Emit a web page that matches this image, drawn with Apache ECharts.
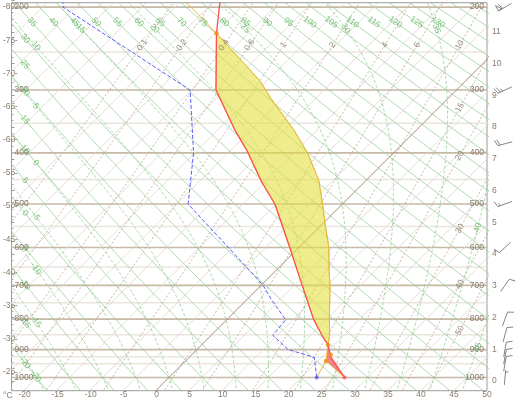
<!DOCTYPE html>
<html><head><meta charset="utf-8">
<script src="https://cdn.jsdelivr.net/npm/echarts@6/dist/echarts.min.js"></script>
<style>html,body{margin:0;padding:0;background:#fff}#c{width:517px;height:400px}</style>
</head><body><div id="c"></div>
<script>
// ---------------- data ----------------
// environment temperature (hPa, °C)
const envP = [1000, 925, 884, 850, 800, 700, 600, 500, 454, 395, 361, 300, 228, 200, 150];
const envT = [26.5, 21.3, 19.1, 16.6, 13.0, 6.2, -1.4, -10.2, -15.6, -22.6, -27.4, -36.3, -44.8, -48.3, -55.5];
// dew point
const dewP = [1000, 927, 900, 852, 802, 742, 700, 650, 500, 400, 300, 200, 150];
const dewT = [22.3, 18.9, 13.8, 9.3, 8.9, 3.8, 0.3, -5.0, -23.3, -30.2, -40.2, -71.9, -80.2];
// lifted parcel
const parcelP = [1000, 939.5, 900, 884, 850, 800, 700, 659, 600, 543, 500, 451, 400, 361, 310, 288, 250, 228, 200, 190];
const parcelT = [26.5, 21.2, 19.7, 19.1, 17.8, 15.4, 10.4, 8.0, 4.5, 0.3, -3.0, -7.2, -13.0, -18.5, -27.1, -30.9, -39.4, -44.8, -52.6, -55.8];
// surface dew point lifted to the condensation level
const liftP = [1000, 939.5];
const liftT = [22.3, 21.2];
// marked parcel points (LCL, ..., LFC, EL)
const markP = [939.5, 918, 884, 228];
const markT = [21.2, 21.0, 19.1, -44.8];
const lfcP = 884, elP = 228;
// wind (hPa, direction deg, speed kt)
const windP = [200, 300, 384, 500, 600, 700, 800, 850, 900, 925, 950, 1000];
const windDir = [240, 245, 255, 250, 228, 35, 20, 15, 10, 10, 10, 5];
const windSpd = [60, 25, 20, 15, 10, 10, 10, 10, 10, 10, 10, 5];
// grid values / tick labels
const majorP = [200, 300, 400, 500, 600, 700, 800, 900, 1000];
const minorP = [250, 350, 450, 550, 650, 750, 850, 925, 950];
const mixRatios = [0.1, 0.2, 0.4, 0.6, 1, 2, 4, 6, 10, 15, 20, 30, 40, 50];
const dryThetas = []; for (let t = -25; t <= 150; t += 5) dryThetas.push(t);
const moistThetas = []; for (let t = -25; t <= 45; t += 5) moistThetas.push(t);
const isoTemps = []; for (let t = -80; t <= 50; t += 5) isoTemps.push(t);

// ---------------- diagram geometry ----------------
const xMin = -21.78, xMax = 50, hMin = -0.3055, hMax = 11.915;
const G = {left: 11.5, right: 30, top: 2.7, bottom: 9.3};
const pxDeg = (517 - G.left - G.right) / (xMax - xMin);
const pxKm = (400 - G.top - G.bottom) / (hMax - hMin);
const K = pxKm / pxDeg;
function hOf(p) { return 44.3308 * (1 - Math.pow(p / 1013.25, 0.190263)); }
function XY(T, p) { const h = hOf(p); return [T + K * (h - hMin), h]; }
function es(T) { return 6.112 * Math.exp(17.67 * T / (T + 243.5)); }
const GAP = [NaN, NaN];
function profile(P, T) { return P.map((p, i) => XY(T[i], p)); }

function hLines(list) { const d = []; list.forEach(p => { const h = hOf(p); d.push([xMin, h], [xMax, h], GAP); }); return d; }
const isoData = []; isoTemps.filter(t => t !== 0).forEach(t => { isoData.push([t, hMin], [t + K * (hMax - hMin), hMax], GAP); });
const zeroIso = [[0, hMin], [K * (hMax - hMin), hMax]];
const pList = []; for (let p = 1060; p >= 165; p -= 5) pList.push(p);
const dryLines = dryThetas.map(th => pList.map(p => XY((th + 273.15) * Math.pow(p / 1000, 0.2857) - 273.15, p)));
function mlapse(p, Tc) {
  const T = Tc + 273.15, e = es(Tc), rs = 0.622 * e / (p - e);
  const Rd = 287.04, cp = 1005.7, Lv = 2.501e6;
  return (1 / p) * (Rd * T + Lv * rs) / (cp + Lv * Lv * rs * 0.622 / (Rd * T * T));
}
function moist(thw) {
  const up = []; let T = thw;
  for (let p = 1000; p >= 165; p -= 5) {
    up.push(XY(T, p));
    const k1 = mlapse(p, T), k2 = mlapse(p - 2.5, T - 2.5 * k1);
    T -= 5 * k2;
  }
  const down = []; T = thw;
  for (let p = 1000; p <= 1060; p += 5) {
    if (p > 1000) down.unshift(XY(T, p));
    const k1 = mlapse(p, T), k2 = mlapse(p + 2.5, T + 2.5 * k1);
    T += 5 * k2;
  }
  return down.concat(up);
}
const moistLines = moistThetas.map(moist);
function mixT(w, p) { const e = w / 1000 * p / (0.622 + w / 1000); const l = Math.log(e / 6.112); return 243.5 * l / (17.67 - l); }
const mixLines = mixRatios.map(w => pList.map(p => XY(mixT(w, p), p)));
function join(lines) { const d = []; lines.forEach(l => { l.forEach(q => d.push(q)); d.push(GAP); }); return d; }

// label where a line leaves the plot (interpolated crossing of the label band)
function labelAt(line, topH, leftX, rightX, maxX) {
  let inside = false;
  for (let i = 1; i < line.length; i++) {
    const [x, h] = line[i];
    if (!inside) { if (x > xMin && x < xMax && h > hMin && h < hMax) inside = true; else continue; }
    if (h >= topH || x <= leftX || x >= rightX) {
      const a = line[i - 1];
      let t = 1;
      if (h >= topH && h !== a[1]) t = Math.min(t, (topH - a[1]) / (h - a[1]));
      if (x <= leftX && x !== a[0]) t = Math.min(t, (leftX - a[0]) / (x - a[0]));
      if (x >= rightX && x !== a[0]) t = Math.min(t, (rightX - a[0]) / (x - a[0]));
      t = Math.max(0, Math.min(1, t));
      const px = a[0] + (x - a[0]) * t, ph = a[1] + (h - a[1]) * t;
      if (px < xMin + 0.5 || px > maxX || ph < hMin + 0.2) return null;
      const ang = Math.atan2((h - a[1]) * pxKm, (x - a[0]) * pxDeg) * 180 / Math.PI;
      return {pos: [px, ph], ang};
    }
  }
  return null;
}
function norm(a) { while (a > 90) a -= 180; while (a < -90) a += 180; return a; }
const greenLabels = [], mixLabels = [];
dryLines.forEach((l, i) => { const r = labelAt(l, 11.3, -19.74, 99, 44); if (r) greenLabels.push({value: r.pos, name: String(dryThetas[i]), label: {rotate: norm(r.ang)}}); });
moistLines.forEach((l, i) => { const r = labelAt(l, 11.1, -18.1, 48.6, 48.8); if (r) greenLabels.push({value: r.pos, name: String(moistThetas[i]), label: {rotate: norm(r.ang)}}); });
mixLines.forEach((l, i) => { const r = labelAt(l, 10.58, -99, 45.9, 46.5); if (r) mixLabels.push({value: r.pos, name: String(mixRatios[i]), label: {rotate: norm(r.ang)}}); });

function between(P, T, lo, hi) { const o = []; P.forEach((p, i) => { if (p <= hi && p >= lo) o.push(XY(T[i], p)); }); return o; }
const capePoly = between(parcelP, parcelT, elP, lfcP).concat(between(envP, envT, elP, lfcP).reverse());
const cinPoly = between(parcelP, parcelT, lfcP, 1000).concat(between(envP, envT, lfcP, 1000).reverse());
function nearestP(v, list) { let b = list[0]; list.forEach(p => { if (Math.abs(hOf(p) - v) < Math.abs(hOf(b) - v)) b = p; }); return b; }

const TXT = '#8a7b6c', FONT = 'Liberation Sans';
const line = (name, data, style, z) => ({type: 'line', name, data, xAxisIndex: 0, yAxisIndex: 0, symbol: 'none', silent: true, connectNulls: false, clip: true, lineStyle: style, z: z || 1, animation: false});

const chart = echarts.init(document.getElementById('c'), null, {renderer: 'canvas'});
chart.setOption({
  animation: false,
  backgroundColor: '#fff',
  textStyle: {fontFamily: FONT},
  grid: [
    {left: G.left, right: G.right, top: G.top, bottom: G.bottom, show: true, borderColor: '#9a9a9a', borderWidth: 1, z: 0},
    {left: 23.3, right: G.right, top: G.top, bottom: G.bottom},
    {left: G.left, right: G.right, top: 7, bottom: 28},
    {left: G.left, right: G.right, top: 381 - 12 * pxKm, bottom: 19},
    {left: 487, right: 0, top: G.top, bottom: G.bottom}
  ],
  xAxis: [
    {gridIndex: 0, type: 'value', min: xMin, max: xMax, show: false},
    {gridIndex: 1, type: 'value', min: -20, max: 50, interval: 5, position: 'bottom', name: '°C', nameLocation: 'start', nameGap: 10,
      nameTextStyle: {color: TXT, fontSize: 8.5, verticalAlign: 'top', padding: [5, 0, 0, 0]},
      axisLine: {show: false}, axisTick: {show: false}, splitLine: {show: false},
      axisLabel: {color: TXT, fontSize: 8.5, margin: 4}},
    {gridIndex: 2, type: 'value', min: 0, max: 1, show: false},
    {gridIndex: 3, type: 'value', min: 0, max: 1, show: false},
    {gridIndex: 4, type: 'value', min: 0, max: 1, show: false}
  ],
  yAxis: [
    {gridIndex: 0, type: 'value', min: hMin, max: hMax, position: 'left', axisLine: {show: false}, axisTick: {show: false}, splitLine: {show: false},
      axisLabel: {inside: true, margin: 3, color: TXT, fontSize: 8.5, customValues: majorP.map(hOf), formatter: v => String(nearestP(v, majorP))}, z: 5},
    {gridIndex: 0, type: 'value', min: hMin, max: hMax, position: 'right', axisLine: {show: false}, axisTick: {show: false}, splitLine: {show: false},
      axisLabel: {inside: true, margin: 3, color: TXT, fontSize: 8.5, customValues: majorP.map(hOf), formatter: v => String(nearestP(v, majorP))}, z: 5},
    {gridIndex: 1, type: 'value', min: 0, max: 1, show: false},
    {gridIndex: 2, type: 'value', min: -80, max: -25, interval: 5, inverse: true, position: 'left',
      axisLine: {show: false}, axisTick: {show: true, length: 2, lineStyle: {color: '#999'}}, splitLine: {show: false},
      axisLabel: {color: TXT, fontSize: 8.5, margin: 2}},
    {gridIndex: 3, type: 'value', min: 0, max: 12, interval: 1, position: 'right',
      axisLine: {show: false}, axisTick: {show: true, length: 3, lineStyle: {color: '#999'}},
      minorTick: {show: true, splitNumber: 5, length: 2, lineStyle: {color: '#aaa'}}, splitLine: {show: false},
      axisLabel: {color: TXT, fontSize: 8.5, margin: 5, formatter: v => v >= 12 ? '' : String(v)}},
    {gridIndex: 4, type: 'value', min: hMin, max: hMax, show: false}
  ],
  series: [
    line('minorP', hLines(minorP), {color: '#ebe5de', width: 1.5}, 1),
    line('majorP', hLines(majorP), {color: '#c8b8a6', width: 1.6}, 1),
    line('isotherms', isoData, {color: '#dcd6d0', width: 0.8}, 1),
    line('mixing', join(mixLines), {color: '#b3a48f', width: 0.8, type: [2, 2]}, 2),
    line('dry', join(dryLines), {color: '#9ad09a', width: 0.8}, 2),
    line('moist', join(moistLines), {color: '#93cf93', width: 0.8, type: [3, 2]}, 2),
    line('zero', zeroIso, {color: '#a38d78', width: 1}, 3),
    {type: 'custom', name: 'CAPE', xAxisIndex: 0, yAxisIndex: 0, silent: true, z: 4, data: [0],
      renderItem: (p, api) => ({type: 'polygon', shape: {points: capePoly.map(q => api.coord(q))}, style: {fill: 'rgba(228,222,60,0.58)', stroke: '#e8c84a', lineWidth: 1}})},
    {type: 'custom', name: 'CIN', xAxisIndex: 0, yAxisIndex: 0, silent: true, z: 4, data: [0],
      renderItem: (p, api) => ({type: 'polygon', shape: {points: cinPoly.map(q => api.coord(q))}, style: {fill: 'rgba(236,80,80,0.7)', stroke: 'none'}})},
    line('parcel', profile(parcelP, parcelT), {color: '#e8b840', width: 1}, 5),
    line('lift', profile(liftP, liftT), {color: '#e8b840', width: 1}, 5),
    line('dew', profile(dewP, dewT), {color: '#5a5aff', width: 1, type: [4, 2]}, 6),
    line('temp', profile(envP, envT), {color: '#ff4e4e', width: 1.3}, 7),
    {type: 'scatter', xAxisIndex: 0, yAxisIndex: 0, silent: true, z: 8, symbolSize: 4.5,
      data: markP.map((p, i) => XY(markT[i], p)), itemStyle: {color: '#e8901c'}},
    {type: 'scatter', xAxisIndex: 0, yAxisIndex: 0, silent: true, z: 8, symbolSize: 4,
      data: [XY(envT[0], envP[0])], itemStyle: {color: '#ff4e4e'}},
    {type: 'scatter', xAxisIndex: 0, yAxisIndex: 0, silent: true, z: 8, symbolSize: 4,
      data: [XY(dewT[0], dewP[0])], itemStyle: {color: '#5a5aff'}},
    {type: 'scatter', xAxisIndex: 0, yAxisIndex: 0, silent: true, z: 9, symbolSize: 0, data: greenLabels,
      label: {show: true, position: 'inside', formatter: '{b}', color: '#55b055', fontSize: 8.5, fontFamily: FONT}},
    {type: 'scatter', xAxisIndex: 0, yAxisIndex: 0, silent: true, z: 9, symbolSize: 0, data: mixLabels,
      label: {show: true, position: 'inside', formatter: '{b}', color: '#7d6e60', fontSize: 8.5, fontFamily: FONT}},
    {type: 'custom', name: 'wind', xAxisIndex: 4, yAxisIndex: 5, silent: true, z: 9,
      data: windP.map((p, i) => [0.6, hOf(p), windDir[i], windSpd[i]]),
      renderItem: (params, api) => {
        const c = api.coord([api.value(0), api.value(1)]);
        const d = api.value(2) * Math.PI / 180, spd = api.value(3);
        const ux = Math.sin(d), uy = -Math.cos(d), L = 15;
        const sx = c[0] - ux * L / 2, sy = c[1] - uy * L / 2;
        const ex = c[0] + ux * L / 2, ey = c[1] + uy * L / 2;
        const nx = -uy, ny = ux;
        const st = {stroke: '#666', lineWidth: 0.8, fill: 'none'};
        const ch = [{type: 'line', shape: {x1: sx, y1: sy, x2: ex, y2: ey}, style: st}];
        let s = Math.round(spd / 5) * 5, pos = 0;
        while (s >= 50) {
          const ax = ex - ux * pos, ay = ey - uy * pos, bx = ex - ux * (pos + 4), by = ey - uy * (pos + 4);
          ch.push({type: 'polygon', shape: {points: [[ax, ay], [bx, by], [ax + nx * 6, ay + ny * 6]]}, style: st});
          s -= 50; pos += 5;
        }
        while (s >= 10) {
          const ax = ex - ux * pos, ay = ey - uy * pos;
          ch.push({type: 'line', shape: {x1: ax, y1: ay, x2: ax + nx * 6 + ux * 2, y2: ay + ny * 6 + uy * 2}, style: st});
          s -= 10; pos += 2.5;
        }
        if (s >= 5) {
          if (pos === 0) pos = 2.5;
          const ax = ex - ux * pos, ay = ey - uy * pos;
          ch.push({type: 'line', shape: {x1: ax, y1: ay, x2: ax + nx * 3 + ux, y2: ay + ny * 3 + uy}, style: st});
        }
        return {type: 'group', children: ch};
      }}
  ]
});
</script></body></html>
